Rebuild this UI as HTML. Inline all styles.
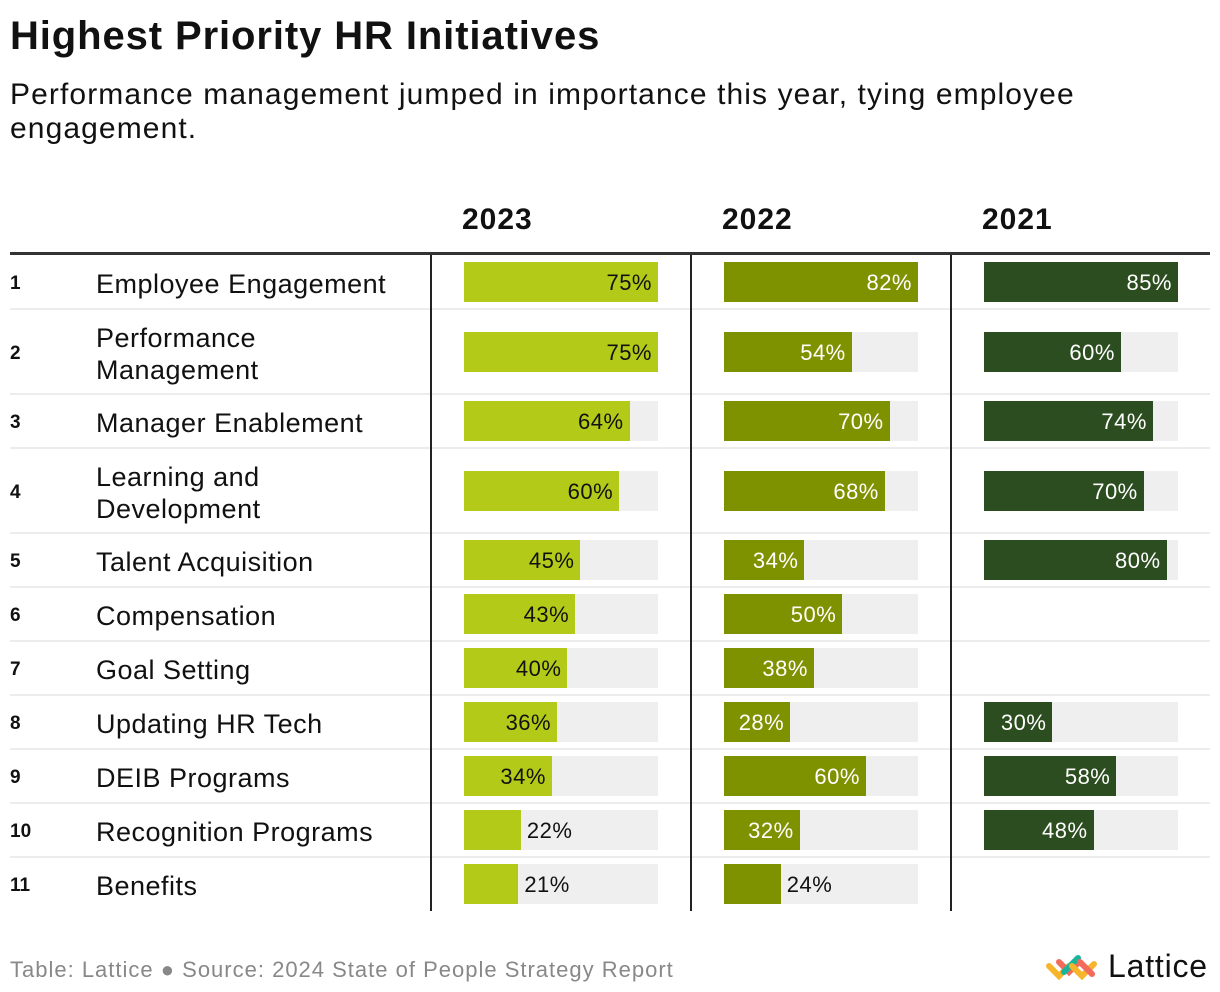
<!DOCTYPE html>
<html><head><meta charset="utf-8"><style>
body{margin:0;width:1220px;height:992px;background:#fff;font-family:"Liberation Sans",sans-serif;color:#111;position:relative;overflow:hidden}
.a{position:absolute;white-space:nowrap}
</style></head><body>
<div class="a" style="left:10px;top:14px;font-size:40px;font-weight:bold;letter-spacing:0.9px">Highest Priority HR Initiatives</div>
<div class="a" style="left:10px;top:78px;font-size:30px;line-height:34px;white-space:normal;width:1150px;letter-spacing:1.1px">Performance management jumped in importance this year, tying employee engagement.</div>
<div id="tbl"></div>
<div class="a" style="left:10px;top:957px;font-size:22px;color:#888;letter-spacing:1px">Table: Lattice ● Source: 2024 State of People Strategy Report</div>
<div class="a" style="left:1044px;top:952px;width:170px;height:34px">
<svg width="60" height="34" style="position:absolute;left:0;top:0"><g stroke-linecap="round" stroke-width="6" fill="none">
<path d="M5 14 L15 24 L25 14" stroke="#f7b52c"/><path d="M15 10 L25 20 L35 10" stroke="#f26b5b"/><path d="M20 20 L34 6" stroke="#19b59a"/><path d="M28 14 L38 24 L50 12" stroke="#f7b52c"/><path d="M36 10 L48 22" stroke="#f26b5b"/></g></svg>
<span class="a" style="left:64px;top:-4px;font-size:32px;letter-spacing:0.8px">Lattice</span></div>
<script>
const labels=["Employee Engagement","Performance Management","Manager Enablement","Learning and Development","Talent Acquisition","Compensation","Goal Setting","Updating HR Tech","DEIB Programs","Recognition Programs","Benefits"];
const years=["2023","2022","2021"];
const v2023=[75,75,64,60,45,43,40,36,34,22,21];
const v2022=[82,54,70,68,34,50,38,28,60,32,24];
const v2021=[85,60,74,70,80,null,null,30,58,48,null];
const series=[v2023,v2022,v2021];
const colors=["#b3cb18","#7e9200","#2c4d1f"];
const textIn=["#111","#fff","#fff"];
const twoLine=[false,true,false,true,false,false,false,false,false,false,false];
const T=document.getElementById('tbl');
function el(css,txt){const d=document.createElement('div');d.className='a';d.style.cssText=css;if(txt!=null)d.textContent=txt;T.appendChild(d);return d;}
const colX=[464,724,984],barW=194;
years.forEach((y,i)=>{const d=el(`left:${colX[i]-2}px;top:203px;font-size:30px;font-weight:bold;letter-spacing:1px`,y);

});
const hl=el('left:10px;top:252px;width:1200px;height:3px;background:#333');


let y=255;
labels.forEach((lab,r)=>{
 const h=twoLine[r]?85:54;const cy=y+h/2;
 const n=el(`left:10px;top:${cy-9}px;font-size:19px;font-weight:bold`,String(r+1));
 
 
 const l=el(`left:96px;top:${cy-(twoLine[r]?30:14)}px;font-size:27px;line-height:32px;letter-spacing:0.5px;white-space:normal;width:${twoLine[r]?200:330}px`,lab);
 
 
 series.forEach((s,i)=>{
  const v=s[r];if(v==null)return;
  const mx=Math.max(...s.filter(x=>x!=null));
  const w=v/mx*barW;
  const bg=el(`left:${colX[i]}px;top:${cy-20}px;width:${barW}px;height:40px;background:#efefef`);
  
  
  const b=el(`left:${colX[i]}px;top:${cy-20}px;width:${w}px;height:40px;background:${colors[i]}`);
  
  
  let t;
  if(w>62) t=el(`left:${colX[i]+w-86}px;width:80px;text-align:right;top:${cy-12}px;font-size:22px;letter-spacing:0.5px;color:${textIn[i]}`,v+'%');
  else t=el(`left:${colX[i]+w+6}px;top:${cy-12}px;font-size:22px;letter-spacing:0.5px;color:#111`,v+'%');
  
  
 });
 y+=h;
 if(r<labels.length-1){const s=el(`left:10px;top:${y-1}px;width:1200px;height:2px;background:#ececec`);
 
 }
});
[431,691,951].forEach(x=>{const v=el(`left:${x-1}px;top:255px;width:2px;height:${y-255}px;background:#222`);

});
</script>
</body></html>
